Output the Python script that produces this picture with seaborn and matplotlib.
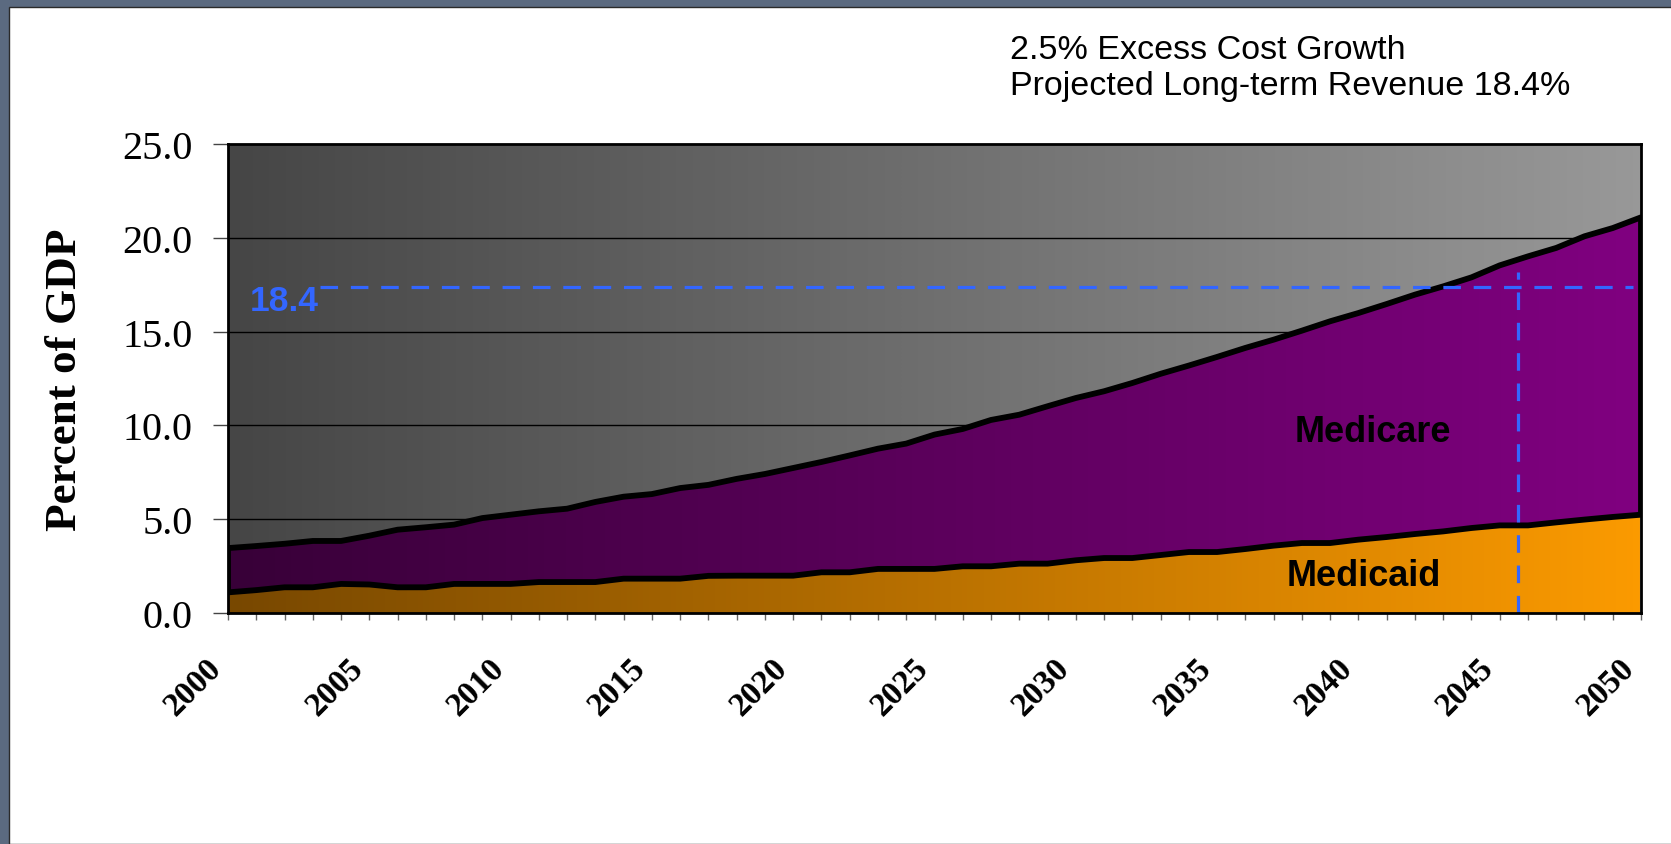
import numpy as np
import matplotlib
matplotlib.use('Agg')
import matplotlib.pyplot as plt
import matplotlib.transforms as mtransforms
from matplotlib.colors import LinearSegmentedColormap
from matplotlib.patches import Rectangle
import seaborn as sns

# Data (percent of GDP)
years = list(range(2000, 2051))
medicaid = [1.10, 1.22, 1.37, 1.37, 1.55, 1.52, 1.37, 1.37, 1.55, 1.55,
            1.55, 1.65, 1.65, 1.65, 1.83, 1.83, 1.83, 1.98, 1.99, 1.99,
            1.99, 2.17, 2.17, 2.35, 2.35, 2.35, 2.49, 2.49, 2.63, 2.63,
            2.81, 2.93, 2.93, 3.09, 3.25, 3.25, 3.41, 3.59, 3.73, 3.73,
            3.91, 4.05, 4.21, 4.35, 4.53, 4.67, 4.67, 4.83, 4.98, 5.12,
            5.24]
medicare = [2.36, 2.35, 2.32, 2.47, 2.29, 2.60, 3.07, 3.20, 3.16, 3.51,
            3.69, 3.77, 3.91, 4.27, 4.37, 4.51, 4.83, 4.85, 5.16, 5.42,
            5.74, 5.88, 6.23, 6.41, 6.68, 7.16, 7.32, 7.80, 7.94, 8.39,
            8.65, 8.89, 9.33, 9.66, 9.94, 10.40, 10.72, 10.98, 11.32, 11.82,
            12.08, 12.42, 12.76, 13.06, 13.36, 13.86, 14.34, 14.63, 15.10, 15.40,
            15.85]
yticks = [0, 5, 10, 15, 20, 25]
xticks = list(range(2000, 2051, 5))
revenue_label = '18.4'
revenue_line = 17.4      # dashed line sits here in the original drawing
crossing_year = 2045.65
title_lines = ['2.5% Excess Cost Growth', 'Projected Long-term Revenue 18.4%']

total = np.array(medicaid) + np.array(medicare)

sns.set_style('white')
plt.rcParams['font.family'] = ['Liberation Serif', 'DejaVu Serif']
plt.rcParams['text.color'] = 'black'
plt.rcParams['xtick.labelcolor'] = 'black'
plt.rcParams['ytick.labelcolor'] = 'black'
plt.rcParams['axes.labelcolor'] = 'black'

fig = plt.figure(figsize=(16.71, 8.45), dpi=100)
fig.patch.set_facecolor('#5b6a80')
fig.add_artist(Rectangle((9 / 1671, 0), 1, 1 - 8 / 845, transform=fig.transFigure,
                         facecolor='white', edgecolor='#2a2a2a', lw=1, zorder=-1))

ax = fig.add_axes([228 / 1671, 1 - 614 / 845, 1413 / 1671, 469 / 845])


def grad_img(ax, c_left, c_right, z):
    cmap = LinearSegmentedColormap.from_list('g', [c_left, c_right])
    return ax.imshow(np.linspace(0, 1, 256).reshape(1, -1), cmap=cmap, aspect='auto',
                     extent=[2000, 2050, 0, 25], origin='lower', zorder=z,
                     interpolation='bilinear')


def grad_fill(ax, x, lo, hi, c_left, c_right, z):
    poly = ax.fill_between(x, lo, hi, color='none', lw=0, zorder=z)
    img = grad_img(ax, c_left, c_right, z)
    img.set_clip_path(poly.get_paths()[0], transform=ax.transData)


# plot area background gradient
grad_img(ax, '#464646', '#989898', 0)
for v in yticks[1:-1]:
    ax.axhline(v, color='black', lw=1, zorder=1)

grad_fill(ax, years, 0, medicaid, '#784800', '#fb9a00', 2)
grad_fill(ax, years, medicaid, total, '#380038', '#800080', 2)

sns.lineplot(x=years, y=total, color='black', lw=4.2, ax=ax, zorder=4)
sns.lineplot(x=years, y=medicaid, color='black', lw=4.2, ax=ax, zorder=4)
ax.vlines([2000, 2050], [medicaid[0], medicaid[-1]], [total[0], total[-1]],
          color='black', lw=4.2, zorder=4)
ax.vlines(2050, 0, medicaid[-1], color='#b0b0b0', lw=1.5, zorder=3)

# revenue reference lines
blue = '#3366ff'
ax.hlines(revenue_line, 2003.25, 2049.7, color=blue, lw=2.3, linestyles=(0, (5.5, 4)), zorder=5)
ax.vlines(crossing_year, 0, 18.2, color=blue, lw=2.3, linestyles=(0, (5.5, 4)), zorder=5)
ax.text(2002.0, 16.65, revenue_label, color=blue, fontsize=25.5, fontweight='bold',
        family='Liberation Sans', ha='center', va='center', zorder=6)

ax.text(2040.5, 9.7, 'Medicare', color='black', fontsize=26, fontweight='bold',
        family='Liberation Sans', ha='center', va='center', zorder=6)
ax.text(2040.2, 1.99, 'Medicaid', color='black', fontsize=26, fontweight='bold',
        family='Liberation Sans', ha='center', va='center', zorder=6)

ax.set_xlim(2000, 2050)
ax.set_ylim(0, 25)
ax.set_yticks(yticks)
ax.set_yticklabels([f'{v:.1f}' for v in yticks], fontsize=29)
ax.set_xticks(xticks)
ax.set_xticks(years, minor=True)
ax.set_xticklabels([str(v) for v in xticks], fontsize=24, fontweight='bold',
                   rotation=45, ha='right', va='top')
offset = mtransforms.ScaledTranslation(-31 / 100, 0, fig.dpi_scale_trans)
for lab in ax.get_xticklabels():
    lab.set_transform(lab.get_transform() + offset)

ax.tick_params(axis='y', which='major', direction='out', length=11, width=1,
               color='#444444', pad=14.5, left=True)
ax.tick_params(axis='x', which='both', direction='out', length=5, width=1,
               color='#666666', bottom=True)
ax.tick_params(axis='x', which='major', pad=23)

for s in ax.spines.values():
    s.set_color('black')
    s.set_linewidth(2)
    s.set_zorder(6)

ax.set_xlabel('')
ax.set_ylabel('Percent of GDP', fontsize=32.5, fontweight='bold')
ax.yaxis.set_label_coords(-0.101, 0.5)

fig.text(1010 / 1671, 1 - 35 / 845, '\n'.join(title_lines), fontsize=24.5,
         family='Liberation Sans', ha='left', va='top', linespacing=1.22)

fig.savefig('out.png', dpi=100, facecolor=fig.get_facecolor())
